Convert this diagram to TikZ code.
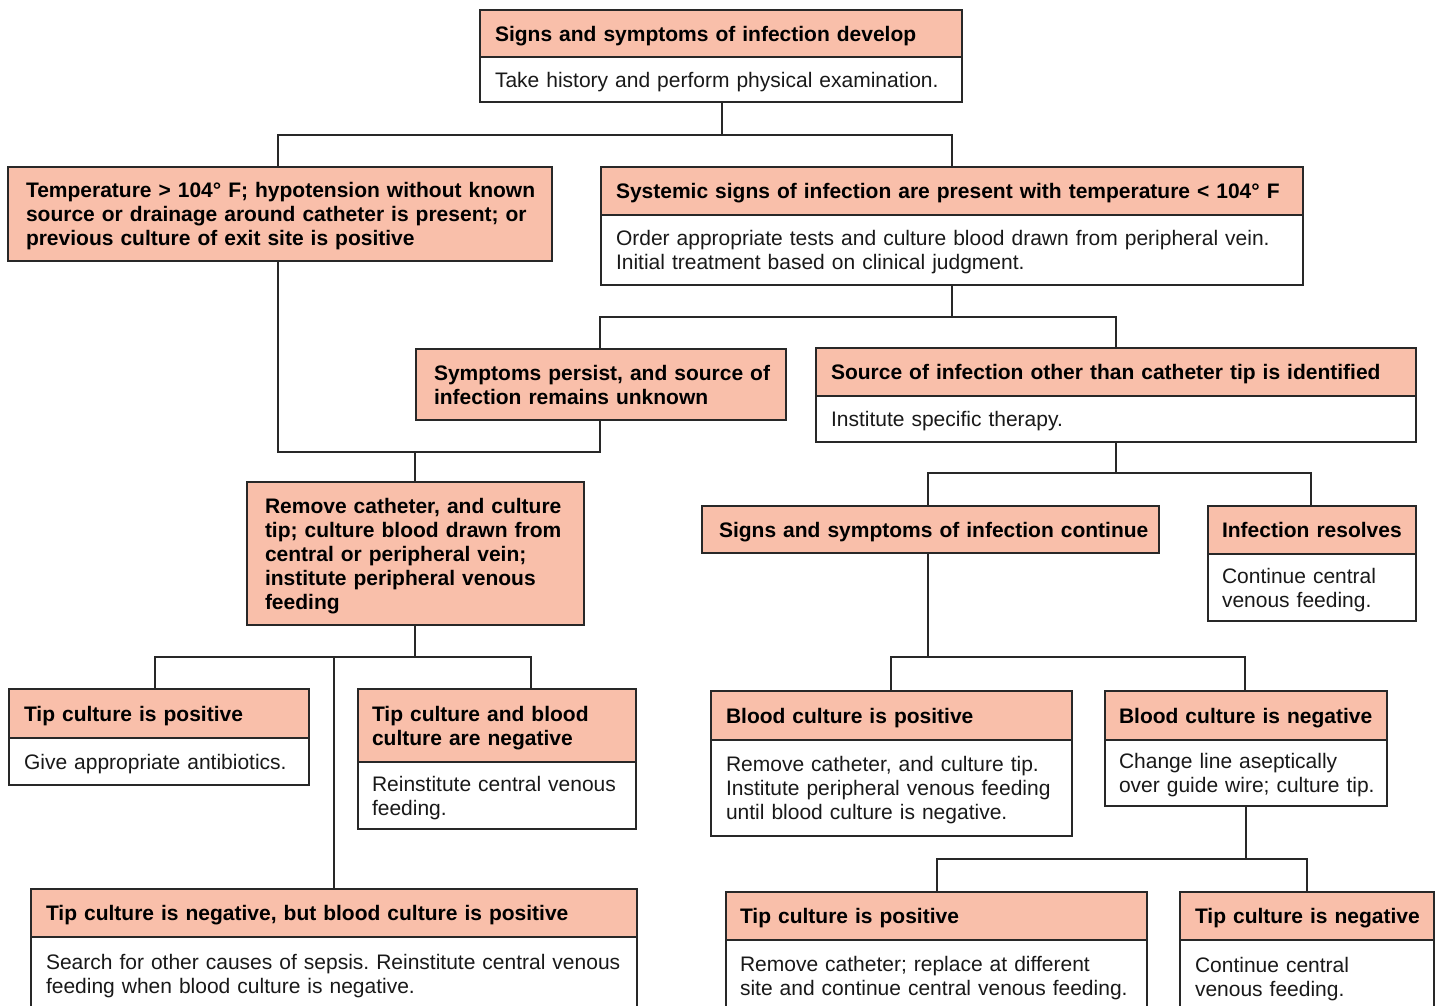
\documentclass[tikz,border=0pt]{standalone}
\usepackage{fontspec}
\setmainfont{Liberation Sans}
\definecolor{salmon}{RGB}{249,191,170}
\definecolor{edge}{RGB}{40,40,40}
\definecolor{ink}{RGB}{25,25,25}
\tikzset{
  base/.style={draw=edge, line width=1.3pt, align=left, inner ysep=0pt, outer sep=0pt,
    anchor=north west, text=ink, font=\frenchspacing\fontsize{21}{24}\selectfont},
  headbox/.style={base, fill=salmon, text=black, font=\frenchspacing\fontsize{21}{24}\selectfont\bfseries},
  bodybox/.style={base, fill=white},
  link/.style={draw=edge, line width=1.3pt},
}
\newcommand{\lines}[1]{\raisebox{-3pt}[\height][\depth]{\begin{tabular}{@{}l@{}}#1\end{tabular}}}
% name, xsep, x1, y1, x2, ymid, y2, head, body
\newcommand{\twobox}[9]{%
  \pgfmathsetmacro\bw{#5-#3-2*#2}%
  \node[headbox, inner xsep=#2pt, text width=\bw pt, minimum height={#6-#4}] (#1h) at (#3,#4) {\lines{#8}};
  \node[bodybox, inner xsep=#2pt, text width=\bw pt, minimum height={#7-#6}] (#1b) at (#3,#6) {\lines{#9}};
}
% name, xsep, x1, y1, x2, y2, text
\newcommand{\onebox}[7]{%
  \pgfmathsetmacro\bw{#5-#3-2*#2}%
  \node[headbox, inner xsep=#2pt, text width=\bw pt, minimum height={#6-#4}] (#1) at (#3,#4) {\lines{#7}};
}
\begin{document}
\begin{tikzpicture}[x=1pt,y=-1pt]
\useasboundingbox (0,0) rectangle (1436,1006);
\clip (0,0) rectangle (1436,1006);

\twobox{A}{15}{480}{10}{962}{57}{102}{Signs and symptoms of infection develop}{Take history and perform physical examination.}
\onebox{B}{18}{8}{167}{552}{261}{Temperature > 104° F; hypotension without known\\source or drainage around catheter is present; or\\previous culture of exit site is positive}
\twobox{C}{15}{601}{167}{1303}{215}{285}{Systemic signs of infection are present with temperature < 104° F}{Order appropriate tests and culture blood drawn from peripheral vein.\\Initial treatment based on clinical judgment.}
\onebox{D}{18}{416}{349}{786}{420}{Symptoms persist, and source of\\infection remains unknown}
\twobox{F}{15}{816}{348}{1416}{396}{442}{Source of infection other than catheter tip is identified}{Institute specific therapy.}
\onebox{E}{18}{247}{482}{584}{625}{Remove catheter, and culture\\tip; culture blood drawn from\\central or peripheral vein;\\institute peripheral venous\\feeding}
\onebox{G}{17}{702}{506}{1159}{553}{Signs and symptoms of infection continue}
\twobox{H}{14}{1208}{506}{1416}{554}{621}{Infection resolves}{Continue central\\venous feeding.}
\twobox{I}{15}{9}{689}{309}{738}{785}{Tip culture is positive}{Give appropriate antibiotics.}
\twobox{J}{14}{358}{689}{636}{762}{829}{Tip culture and blood\\culture are negative}{Reinstitute central venous\\feeding.}
\twobox{K}{15}{31}{889}{637}{937}{1011}{Tip culture is negative, but blood culture is positive}{Search for other causes of sepsis. Reinstitute central venous\\feeding when blood culture is negative.}
\twobox{L}{15}{711}{691}{1072}{740}{836}{Blood culture is positive}{Remove catheter, and culture tip.\\Institute peripheral venous feeding\\until blood culture is negative.}
\twobox{M}{14}{1105}{691}{1387}{740}{806}{Blood culture is negative}{Change line aseptically\\over guide wire; culture tip.}
\twobox{N}{14}{726}{892}{1147}{940}{1012}{Tip culture is positive}{Remove catheter; replace at different\\site and continue central venous feeding.}
\twobox{O}{15}{1180}{892}{1434}{940}{1014}{Tip culture is negative}{Continue central\\venous feeding.}

% connectors
\coordinate (jA) at (722,135);
\coordinate (jAl) at (278,135);
\coordinate (jAr) at (952,135);
\draw[link] (jA |- Ab.south) -- (jA);
\draw[link] (jAl |- B.north) -- (jAl) -- (jAr) -- (jAr |- Ch.north);

\coordinate (jC) at (952,317);
\coordinate (jCl) at (600,317);
\coordinate (jCr) at (1116,317);
\draw[link] (jC |- Cb.south) -- (jC);
\draw[link] (jCl |- D.north) -- (jCl) -- (jCr) -- (jCr |- Fh.north);

\coordinate (jB) at (415,452);
\coordinate (jBl) at (278,452);
\coordinate (jBr) at (600,452);
\draw[link] (jBl |- B.south) -- (jBl) -- (jBr) -- (jBr |- D.south);
\draw[link] (jB) -- (jB |- E.north);

\coordinate (jF) at (1116,473);
\coordinate (jFl) at (928,473);
\coordinate (jFr) at (1311,473);
\draw[link] (jF |- Fb.south) -- (jF);
\draw[link] (jFl |- G.north) -- (jFl) -- (jFr) -- (jFr |- Hh.north);

\coordinate (jE) at (415,657);
\coordinate (jI) at (155,657);
\coordinate (jJ) at (531,657);
\coordinate (jK) at (334,657);
\draw[link] (jE |- E.south) -- (jE);
\draw[link] (jI |- Ih.north) -- (jI) -- (jJ) -- (jJ |- Jh.north);
\draw[link] (jK |- Kh.north) -- (jK);

\coordinate (jG) at (928,657);
\coordinate (jGl) at (891,657);
\coordinate (jGr) at (1245,657);
\draw[link] (jG |- G.south) -- (jG);
\draw[link] (jGl |- Lh.north) -- (jGl) -- (jGr) -- (jGr |- Mh.north);

\coordinate (jM) at (1246,859);
\coordinate (jMl) at (937,859);
\coordinate (jMr) at (1307,859);
\draw[link] (jM |- Mb.south) -- (jM);
\draw[link] (jMl |- Nh.north) -- (jMl) -- (jMr) -- (jMr |- Oh.north);
\end{tikzpicture}
\end{document}
